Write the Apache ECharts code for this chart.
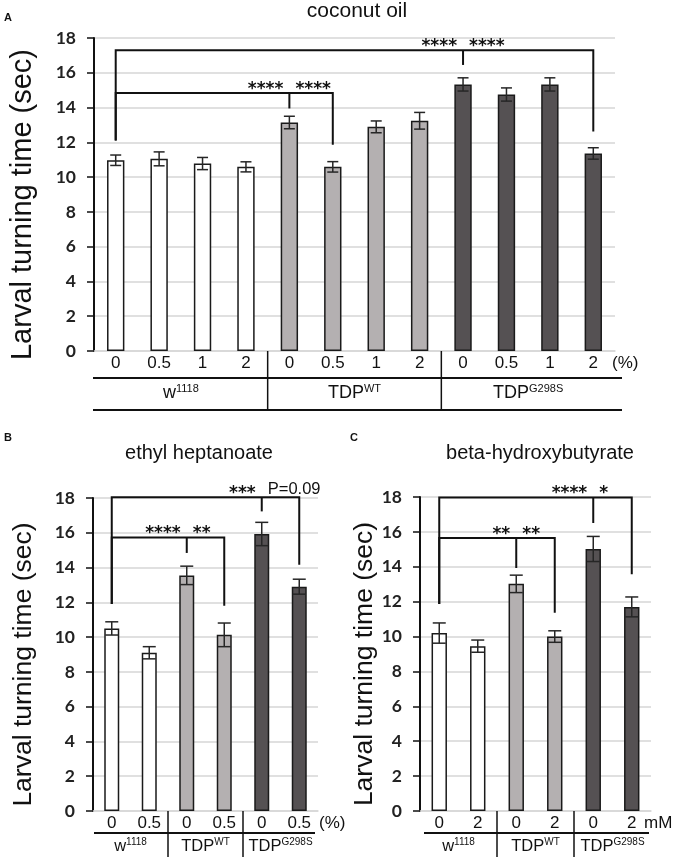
<!DOCTYPE html>
<html>
<head>
<meta charset="utf-8">
<script src="https://cdn.jsdelivr.net/npm/echarts@6/dist/echarts.min.js"></script>
<style>
  html, body { margin: 0; padding: 0; background: #fff; }
  #main { width: 677px; height: 862px; }
</style>
</head>
<body>
<div id="main"></div>
<script>
// ---- data ----
var catsA = ['0', '0.5', '1', '2', '0', '0.5', '1', '2', '0', '0.5', '1', '2'];
var meanA = [10.97, 11.05, 10.78, 10.59, 13.14, 10.59, 12.89, 13.24, 15.33, 14.75, 15.33, 11.36];
var errA = [0.3, 0.4, 0.35, 0.29, 0.36, 0.3, 0.34, 0.48, 0.38, 0.38, 0.38, 0.33];
var spansA = [[0, 3], [4, 7], [8, 11]];

var catsB = ['0', '0.5', '0', '0.5', '0', '0.5'];
var meanB = [10.5, 9.1, 13.55, 10.13, 15.93, 12.9];
var errB = [0.38, 0.35, 0.53, 0.68, 0.67, 0.43];
var spansB = [[0, 1], [2, 3], [4, 5]];

var catsC = ['0', '2', '0', '2', '0', '2'];
var meanC = [10.2, 9.45, 13.02, 10.0, 15.02, 11.7];
var errC = [0.58, 0.35, 0.5, 0.33, 0.72, 0.57];
var spansC = [[0, 1], [2, 3], [4, 5]];

var groupNames = ['w', 'TDP', 'TDP'];
var groupSups = ['1118', 'WT', 'G298S'];

// brackets: [from, mid, to, line value, from end, mid end, to end]
var bracketsA = [[0, 8, 11, 17.3, 12.1, 16.45, 12.62], [0, 4, 5, 14.84, 12.1, 13.95, 11.86]];
var bracketLabelsA = [['****', '****'], ['****', '****']];
var bracketsB = [[0, 4, 5, 18.05, 11.9, 17.23, 14.16], [0, 2, 3, 15.73, 11.9, 14.84, 11.8]];
var bracketLabelsB = [['***', 'P=0.09'], ['****', '**']];
var bracketsC = [[0, 4, 5, 17.97, 11.86, 16.51, 13.57], [0, 2, 3, 15.65, 11.86, 13.93, 11.36]];
var bracketLabelsC = [['****', '*'], ['**', '**']];

var titles = ['coconut oil', 'ethyl heptanoate', 'beta-hydroxybutyrate'];
var letters = ['A', 'B', 'C'];
var units = ['(%)', '(%)', 'mM'];

var groupColors = ['#ffffff', '#b4b0b1', '#555153'];
var SANS = 'Liberation Sans, Arial, sans-serif';

var panels = [
  { cats: catsA, mean: meanA, err: errA, spans: spansA, br: bracketsA, brl: bracketLabelsA,
    grid: { left: 94, top: 38, width: 521, height: 313 },
    title: [357, 1], letter: [4, 12], nameSize: 29, nameGap: 57, unitGap: -3,
    capHalf: 5.5, sepLen: 59, hLines: [27, 59], labelDy: 42, lineL: 1, lineR: 7, gFont: 18, gSup: 11 },
  { cats: catsB, mean: meanB, err: errB, spans: spansB, br: bracketsB, brl: bracketLabelsB,
    grid: { left: 93, top: 498, width: 225, height: 313 },
    title: [199, 443], letter: [4, 432], nameSize: 26.5, nameGap: 56, unitGap: 1,
    capHalf: 6.5, sepLen: 46, hLines: [22], labelDy: 35, lineL: -1, lineR: -3, gFont: 16.5, gSup: 10 },
  { cats: catsC, mean: meanC, err: errC, spans: spansC, br: bracketsC, brl: bracketLabelsC,
    grid: { left: 420, top: 497, width: 231, height: 314 },
    title: [540, 443], letter: [350, 432], nameSize: 26.5, nameGap: 42, unitGap: -7,
    capHalf: 6.5, sepLen: 46, hLines: [22], labelDy: 35, lineL: -4, lineR: -2, gFont: 16.5, gSup: 10 }
];

var myChart = echarts.init(document.getElementById('main'));

function lineEl(x1, y1, x2, y2, w, c) {
  return { type: 'line', shape: { x1: x1, y1: y1, x2: x2, y2: y2 },
    style: { stroke: c || '#111', lineWidth: w || 1.5 } };
}

// error bars
function errRender(capHalf) {
  return function (params, api) {
    var i = api.value(0);
    var lo = api.coord([i, api.value(1)]);
    var hi = api.coord([i, api.value(2)]);
    var cx = lo[0];
    return { type: 'group', children: [
      lineEl(cx, lo[1], cx, hi[1], 1.5, '#262626'),
      lineEl(cx - capHalf, lo[1], cx + capHalf, lo[1], 1.5, '#262626'),
      lineEl(cx - capHalf, hi[1], cx + capHalf, hi[1], 1.5, '#262626')
    ] };
  };
}

// significance brackets
function bracketRender(labels) {
  return function (params, api) {
    var lab = labels[params.dataIndex];
    var xL = api.coord([api.value(0), 0])[0];
    var xM = api.coord([api.value(1), 0])[0];
    var xR = api.coord([api.value(2), 0])[0];
    var yLine = api.coord([0, api.value(3)])[1];
    var yL = api.coord([0, api.value(4)])[1];
    var yM = api.coord([0, api.value(5)])[1];
    var yR = api.coord([0, api.value(6)])[1];
    function txt(s, x, align) {
      var star = /^\*+$/.test(s);
      return { type: 'text', x: x, y: star ? yLine - 3.5 : yLine - 8,
        style: { text: s, align: align, verticalAlign: 'middle', fill: '#111',
          font: star ? 'bold 17px DejaVu Sans' : '16.5px ' + SANS } };
    }
    return { type: 'group', children: [
      { type: 'polyline', shape: { points: [[xL, yL], [xL, yLine], [xR, yLine], [xR, yR]] },
        style: { stroke: '#111', lineWidth: 2, fill: null } },
      lineEl(xM, yLine, xM, yM, 2),
      txt(lab[0], xM - 6, 'right'),
      txt(lab[1], xM + 6, 'left')
    ] };
  };
}

// genotype groups under the axis
function groupRender(p) {
  var last = p.cats.length - 1;
  return function (params, api) {
    var s = api.value(0), e = api.value(1), gi = api.value(2);
    var band = api.size([1, 0])[0];
    var ps = api.coord([s, 0]), pe = api.coord([e, 0]);
    var x0 = ps[0] - band / 2, x1 = pe[0] + band / 2, y0 = ps[1];
    var kids = [];
    if (s > 0) kids.push(lineEl(x0, y0, x0, y0 + p.sepLen, 1.5));
    if (gi === 0) {
      var xEnd = api.coord([last, 0])[0] + band / 2;
      p.hLines.forEach(function (dy) {
        kids.push(lineEl(x0 - p.lineL, y0 + dy, xEnd + p.lineR, y0 + dy, 2));
      });
    }
    kids.push({ type: 'text', x: (x0 + x1) / 2, y: y0 + p.labelDy,
      style: { text: '{n|' + groupNames[gi] + '}{s|' + groupSups[gi] + '}',
        align: 'center', verticalAlign: 'middle', fill: '#111',
        rich: {
          n: { fontSize: p.gFont, fontFamily: SANS, lineHeight: p.gFont + 2, fill: '#111' },
          s: { fontSize: p.gSup, fontFamily: SANS, lineHeight: p.gSup + 1, verticalAlign: 'top', fill: '#111' }
        } } });
    return { type: 'group', children: kids };
  };
}

var option = { backgroundColor: '#fff', animation: false,
  title: [], grid: [], xAxis: [], yAxis: [], series: [] };

panels.forEach(function (p, k) {
  option.title.push({ text: titles[k], left: p.title[0], top: p.title[1], textAlign: 'center', padding: 0,
    textStyle: { fontSize: k === 0 ? 21 : 20, fontWeight: 'normal', fontFamily: SANS, color: '#111' } });
  option.title.push({ text: letters[k], left: p.letter[0], top: p.letter[1], padding: 0,
    textStyle: { fontSize: 11, fontWeight: 'bold', fontFamily: SANS, color: '#111' } });

  option.grid.push(Object.assign({ containLabel: false, outerBoundsMode: 'none' }, p.grid));

  option.xAxis.push({ type: 'category', gridIndex: k, data: p.cats,
    axisLine: { lineStyle: { color: '#d6d6d6', width: 1.5 } },
    axisTick: { show: false },
    axisLabel: { interval: 0, fontSize: 17, color: '#111', fontFamily: SANS, margin: 4 },
    name: units[k], nameLocation: 'end', nameGap: p.unitGap,
    nameTextStyle: { fontSize: 17, color: '#111', fontFamily: SANS, verticalAlign: 'top', padding: [4, 0, 0, 0] } });

  option.yAxis.push({ type: 'value', gridIndex: k, min: 0, max: 18, interval: 2,
    axisLine: { show: true, lineStyle: { color: '#111', width: 2 } },
    axisTick: { show: true, length: 7, lineStyle: { color: '#111', width: 1.5 } },
    axisLabel: { fontSize: 17.5, fontWeight: 'bold', fontFamily: 'Lato', color: '#222', margin: 18 },
    splitLine: { lineStyle: { color: '#d6d6d6', width: 1.5 } },
    name: 'Larval turning time (sec)', nameLocation: 'middle', nameRotate: 90, nameGap: p.nameGap,
    nameTextStyle: { fontSize: p.nameSize, color: '#111', fontFamily: SANS, padding: [0, 20, 0, 0] } });

  var barData = p.mean.map(function (v, i) {
    var g = 0;
    p.spans.forEach(function (s, gi) { if (i >= s[0] && i <= s[1]) g = gi; });
    return { value: v, itemStyle: { color: groupColors[g] } };
  });
  option.series.push({ type: 'bar', xAxisIndex: k, yAxisIndex: k, barWidth: '40%', data: barData,
    itemStyle: { borderColor: '#1a1a1a', borderWidth: 1.5 } });

  option.series.push({ type: 'custom', xAxisIndex: k, yAxisIndex: k, z: 3,
    renderItem: errRender(p.capHalf), encode: { x: 0, y: [1, 2] },
    data: p.mean.map(function (v, i) { return [i, v - p.err[i], v + p.err[i]]; }) });

  option.series.push({ type: 'custom', xAxisIndex: k, yAxisIndex: k, z: 4, clip: false,
    renderItem: bracketRender(p.brl), encode: { x: 0, y: 3 }, data: p.br });

  option.series.push({ type: 'custom', xAxisIndex: k, yAxisIndex: k, z: 4, clip: false,
    renderItem: groupRender(p), encode: { x: 0, y: 2 },
    data: p.spans.map(function (s, gi) { return [s[0], s[1], gi]; }) });
});

myChart.setOption(option);
</script>
</body>
</html>
